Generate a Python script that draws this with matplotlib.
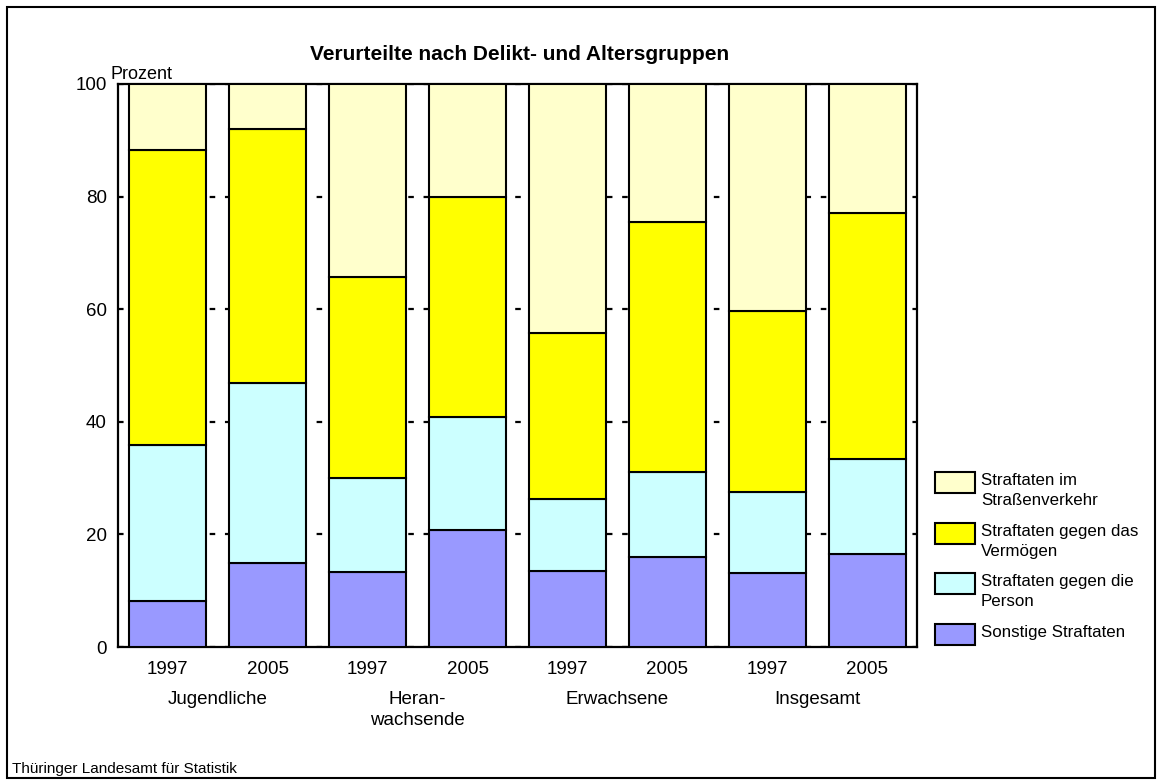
import matplotlib
matplotlib.use("Agg")
import matplotlib.pyplot as plt
from matplotlib.patches import Rectangle
import numpy as np

plt.rcParams['font.family'] = ['Liberation Sans', 'DejaVu Sans']
plt.rcParams['lines.scale_dashes'] = False

# Daten (Prozent)
jahre = ["1997", "2005", "1997", "2005", "1997", "2005", "1997", "2005"]
gruppen = ["Jugendliche", "Heran-\nwachsende", "Erwachsene", "Insgesamt"]
sonstige = [8.2, 15.0, 13.3, 20.7, 13.5, 15.9, 13.1, 16.5]
person = [27.7, 31.9, 16.7, 20.2, 12.7, 15.2, 14.4, 16.9]
vermoegen = [52.4, 45.1, 35.8, 39.0, 29.5, 44.3, 32.1, 43.6]
verkehr = [11.7, 8.0, 34.2, 20.1, 44.3, 24.6, 40.4, 23.0]

serien = [
    ("Sonstige Straftaten", sonstige, "#9999FF"),
    ("Straftaten gegen die\nPerson", person, "#CCFFFF"),
    ("Straftaten gegen das\nVermögen", vermoegen, "#FFFF00"),
    ("Straftaten im\nStraßenverkehr", verkehr, "#FFFFCC"),
]

W, H = 1158, 784
fig = plt.figure(figsize=(W / 100, H / 100), dpi=100)
ax = fig.add_axes([118 / W, 1 - 647 / H, (917 - 118) / W, (647 - 84) / H])

x = np.arange(len(jahre))
unten = np.zeros(len(jahre))
for name, werte, farbe in serien:
    ax.bar(x, werte, width=0.77, bottom=unten, color=farbe,
           edgecolor="black", linewidth=1.5, zorder=3)
    unten += np.array(werte)

ax.set_xlim(-0.5, 7.5)
ax.set_ylim(0, 100)
ax.set_yticks([0, 20, 40, 60, 80, 100])
ax.yaxis.grid(True, color="black", linewidth=1.6, linestyle=(0, (4, 7)), zorder=1)
ax.set_axisbelow(True)
ax.set_xticks(x)
ax.set_xticklabels(jahre)
ax.tick_params(axis="x", length=0, pad=10, labelsize=13.5)
ax.tick_params(axis="y", length=0, pad=8, labelsize=13.5)
for s in ax.spines.values():
    s.set_linewidth(1.6)
    s.set_color("black")

# Gruppenbeschriftung unter den Jahren
for i, g in enumerate(gruppen):
    ax.text(2 * i + 0.5, -(691 - 647) / 563, g, transform=ax.get_xaxis_transform(),
            ha="center", va="top", fontsize=13.5, linespacing=1.28)

fig.text(111 / W, 1 - 79 / H, "Prozent", fontsize=13, ha="left", va="baseline")

fig.text(520 / W, 1 - 55 / H, "Verurteilte nach Delikt- und Altersgruppen",
         ha="center", va="center", fontsize=15, fontweight="bold")
fig.text(12 / W, 1 - 769 / H, "Thüringer Landesamt für Statistik",
         ha="left", va="center", fontsize=11)

# Legende
leg_y = [472, 523, 573, 624]
for (name, werte, farbe), y in zip(serien[::-1], leg_y):
    fig.patches.append(Rectangle((935 / W, 1 - (y + 21) / H), 40 / W, 21 / H,
                                 transform=fig.transFigure, facecolor=farbe,
                                 edgecolor="black", linewidth=1.5))
    fig.text(981 / W, 1 - (y + 1) / H, name, ha="left", va="top",
             fontsize=12.2, linespacing=1.4)

# Rahmen
fig.patches.append(Rectangle((7 / W, 1 - 778 / H), (1155 - 7) / W, (778 - 7) / H,
                             transform=fig.transFigure, fill=False,
                             edgecolor="black", linewidth=1.5))

fig.savefig("out.png", dpi=100)
